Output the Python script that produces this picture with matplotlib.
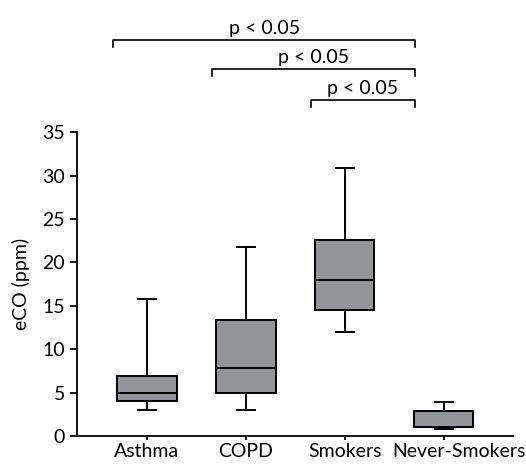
import matplotlib
matplotlib.use("Agg")
import matplotlib.pyplot as plt
from matplotlib.transforms import ScaledTranslation

plt.rcParams['font.family'] = ['Lato', 'DejaVu Sans']

groups = ['Asthma', 'COPD', 'Smokers', 'Never-Smokers']
whislo = [3.0, 3.0, 12.0, 0.8]
q1 = [4.0, 5.0, 14.5, 1.1]
med = [5.0, 7.9, 18.0, 1.1]
q3 = [6.9, 13.4, 22.6, 2.9]
whishi = [15.8, 21.8, 30.9, 3.9]

# significance brackets: (start group, end group, label)
brackets = [(1, 4, 'p < 0.05'), (2, 4, 'p < 0.05'), (3, 4, 'p < 0.05')]
bracket_y = [45.6, 42.3, 38.7]

fig = plt.figure(figsize=(5.26, 4.65), dpi=100)
ax = fig.add_axes([0.146, 0.062, 0.829, 0.654])

stats = []
for i, g in enumerate(groups):
    stats.append(dict(label=g, whislo=whislo[i], q1=q1[i], med=med[i],
                      q3=q3[i], whishi=whishi[i], fliers=[]))

lw = 1.4
ax.bxp(stats, positions=range(1, 5), widths=0.6, patch_artist=True,
       showfliers=False,
       boxprops=dict(facecolor='#939598', edgecolor='black', linewidth=lw),
       medianprops=dict(color='black', linewidth=lw),
       whiskerprops=dict(color='black', linewidth=lw),
       capprops=dict(color='black', linewidth=lw),
       capwidths=0.18)

ax.set_xlim(0.29, 4.7)
ax.set_ylim(0, 35)
ax.set_yticks(range(0, 36, 5))
ax.set_ylabel('eCO (ppm)', fontsize=14, labelpad=9)
ax.spines['top'].set_visible(False)
ax.spines['right'].set_visible(False)
ax.spines['left'].set_linewidth(1.3)
ax.spines['bottom'].set_linewidth(1.3)
ax.tick_params(axis='y', labelsize=14, length=5, width=1.3)
ax.tick_params(axis='x', labelsize=14, length=3, width=1.3, pad=2)

# last label sits a bit to the right in the original
last = ax.get_xticklabels()[-1]
last.set_transform(last.get_transform() + ScaledTranslation(0.15, 0, fig.dpi_scale_trans))

for (a, b, label), y in zip(brackets, bracket_y):
    x0 = a - 0.34
    x1 = b - 0.29
    ax.plot([x0, x0, x1, x1], [y - 0.8, y, y, y - 0.8], color='black',
            linewidth=1.2, clip_on=False)
    ax.text((x0 + x1) / 2, y + 0.3, label, ha='center', va='bottom',
            fontsize=14)

fig.savefig('out.png', dpi=100)
